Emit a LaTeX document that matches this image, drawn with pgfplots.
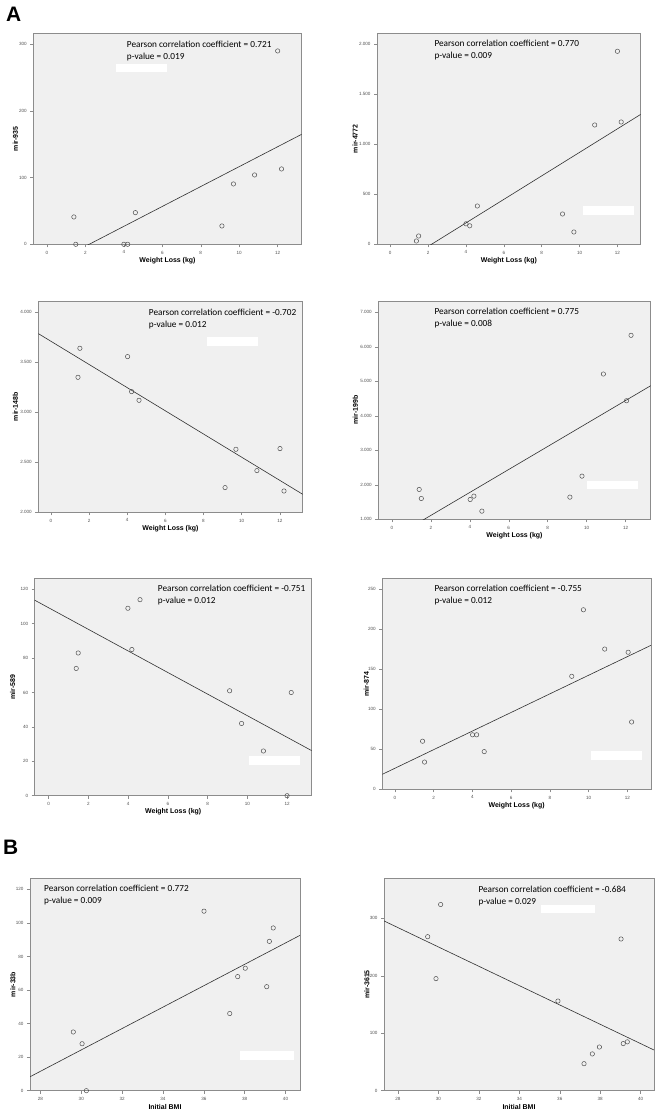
\documentclass[border=0pt]{standalone}
\usepackage{fontspec}
\setmainfont{Liberation Sans}
\newfontfamily\cali{Carlito}
\usepackage{pgfplots}
\pgfplotsset{compat=1.18}
\definecolor{bgc}{HTML}{F0F0F0}
\definecolor{axc}{HTML}{8C8C8C}
\definecolor{tickc}{HTML}{505050}
\definecolor{markc}{HTML}{505050}
\definecolor{linec}{HTML}{303030}
\pgfplotsset{
  panel/.style={
    scale only axis, anchor=south west,
    axis background/.style={fill=bgc},
    axis line style={draw=axc, line width=0.7pt},
    tick align=outside, tick pos=left,
    major tick length=3bp,
    every tick/.style={draw=axc, line width=0.5pt},
    ticklabel style={font=\fontsize{4.6}{5}\selectfont, text=tickc},
    /pgf/number format/assume math mode=true,
    /pgf/number format/1000 sep={.},
    scaled ticks=false,
    xlabel style={font=\bfseries\fontsize{7}{8}\selectfont, at={([yshift=-16.5bp]rel axis cs:0.5,0)}, anchor=center},
    every axis y label/.style={font=\bfseries\fontsize{7}{8}\selectfont, rotate=90, anchor=center},
  },
  pts/.style={only marks, mark=o, mark size=2.2bp, mark options={draw=markc, line width=0.5pt}},
  fit/.style={no marks, draw=linec, line width=0.6pt},
}
\newcommand{\ann}[4]{%
  \node[anchor=base west, inner sep=0pt, font=\cali\fontsize{9.3}{11}\selectfont] at (#1bp,#2bp) {Pearson correlation coefficient = #3};
  \node[anchor=base west, inner sep=0pt, font=\cali\fontsize{9.3}{11}\selectfont] at ([yshift=-12bp]#1bp,#2bp) {p-value = #4};}
\begin{document}
\begin{tikzpicture}
\path[use as bounding box] (0,0) rectangle (658bp,1114bp);
\node[anchor=base west, inner sep=0pt, font=\bfseries\fontsize{21}{24}\selectfont] at (6bp,1092bp) {A};
\node[anchor=base west, inner sep=0pt, font=\bfseries\fontsize{21}{24}\selectfont] at (3bp,259bp) {B};

% Panel 1: mir-935
\begin{axis}[panel, at={(33.3bp,869.7bp)}, width=268.4bp, height=211bp,
  xmin=-0.71, xmax=13.25, ymin=0, ymax=316.5,
  xtick={0,2,...,12}, ytick={0,100,200,300},
  xlabel={Weight Loss (kg)}, ylabel={mir-935},
  ylabel style={at={([xshift=-18bp]rel axis cs:0,0.5)}}]
\addplot[pts] coordinates {(1.4,41) (1.5,0) (4.0,0) (4.2,0) (4.6,47.5) (9.1,27.5) (9.7,90.5) (10.8,104) (12.0,290) (12.2,113)};
\addplot[fit] coordinates {(-0.71,-43.4) (13.25,165)};
\fill[white] (axis cs:3.59,258.5) rectangle (axis cs:6.22,270);
\end{axis}

% Panel 2: mir-4772
\begin{axis}[panel, at={(377bp,869.7bp)}, width=263.7bp, height=211bp,
  xmin=-0.70, xmax=13.23, ymin=0, ymax=2110,
  xtick={0,2,...,12}, ytick={0,500,1000,1500,2000},
  xlabel={Weight Loss (kg)}, ylabel={mir-4772},
  ylabel style={at={([xshift=-22bp]rel axis cs:0,0.5)}}]
\addplot[pts] coordinates {(1.38,33) (1.5,83) (4.0,205) (4.2,185) (4.6,383) (9.1,303) (9.7,123) (10.8,1193) (12.0,1930) (12.2,1223)};
\addplot[fit] coordinates {(-0.70,-338.7) (13.23,1299)};
\fill[white] (axis cs:10.2,293) rectangle (axis cs:12.9,380);
\end{axis}

% Panel 3: mir-148b
\begin{axis}[panel, at={(38.3bp,601.7bp)}, width=264.4bp, height=211.3bp,
  xmin=-0.66, xmax=13.2, ymin=2000, ymax=4113,
  xtick={0,2,...,12}, ytick={2000,2500,3000,3500,4000},
  xlabel={Weight Loss (kg)}, ylabel={mir-148b},
  ylabel style={at={([xshift=-23bp]rel axis cs:0,0.5)}}]
\addplot[pts] coordinates {(1.42,3350) (1.52,3640) (4.02,3557) (4.23,3207) (4.62,3120) (9.13,2247) (9.70,2630) (10.80,2417) (12.01,2637) (12.22,2213)};
\addplot[fit] coordinates {(-0.66,3787) (13.2,2180)};
\fill[white] (axis cs:8.16,3667) rectangle (axis cs:10.84,3757);
\end{axis}

% Panel 4: mir-199b
\begin{axis}[panel, at={(378.3bp,594.7bp)}, width=272.4bp, height=218.3bp,
  xmin=-0.70, xmax=13.29, ymin=1000, ymax=7328,
  xtick={0,2,...,12}, ytick={1000,2000,...,7000},
  xlabel={Weight Loss (kg)}, ylabel={mir-199b},
  ylabel style={at={([xshift=-23bp]rel axis cs:0,0.5)}}]
\addplot[pts] coordinates {(1.40,1865) (1.51,1603) (4.02,1574) (4.21,1671) (4.62,1236) (9.14,1642) (9.76,2251) (10.86,5211) (12.05,4437) (12.28,6333)};
\addplot[fit] coordinates {(-0.70,214) (13.29,4872)};
\fill[white] (axis cs:10.0,1865) rectangle (axis cs:12.64,2116);
\end{axis}

% Panel 5: mir-589
\begin{axis}[panel, at={(34.7bp,318.3bp)}, width=277bp, height=217bp,
  xmin=-0.70, xmax=13.24, ymin=0, ymax=126.2,
  xtick={0,2,...,12}, ytick={0,20,...,120},
  xlabel={Weight Loss (kg)}, ylabel={mir-589},
  ylabel style={at={([xshift=-22bp]rel axis cs:0,0.5)}}]
\addplot[pts] coordinates {(1.39,74) (1.49,83) (3.99,109) (4.19,85) (4.60,114) (9.11,61) (9.71,42) (10.81,26) (12.0,0) (12.21,60)};
\addplot[fit] coordinates {(-0.70,113.7) (13.24,26.2)};
\fill[white] (axis cs:10.08,18) rectangle (axis cs:12.65,23);
\end{axis}

% Panel 6: mir-874
\begin{axis}[panel, at={(382.3bp,324.7bp)}, width=268.7bp, height=211bp,
  xmin=-0.65, xmax=13.22, ymin=0, ymax=263.3,
  xtick={0,2,...,12}, ytick={0,50,...,250},
  xlabel={Weight Loss (kg)}, ylabel={mir-874},
  ylabel style={at={([xshift=-16bp]rel axis cs:0,0.5)}}]
\addplot[pts] coordinates {(1.43,60) (1.53,34) (4.01,68) (4.22,68) (4.61,47) (9.13,141) (9.73,224) (10.83,175) (12.04,171) (12.22,84)};
\addplot[fit] coordinates {(-0.65,18.7) (13.22,179.7)};
\fill[white] (axis cs:10.14,37) rectangle (axis cs:12.78,47.8);
\end{axis}

% Panel 7: mir-33b
\begin{axis}[panel, at={(30bp,23.3bp)}, width=270bp, height=212.4bp,
  xmin=27.49, xmax=40.71, ymin=0, ymax=126.6,
  xtick={28,30,...,40}, ytick={0,20,...,120},
  xlabel={Initial BMI}, ylabel={mir-33b},
  ylabel style={at={([xshift=-17bp]rel axis cs:0,0.5)}}]
\addplot[pts] coordinates {(29.61,35) (30.04,28) (30.25,0) (36.01,107) (37.27,46) (37.66,68) (38.03,73) (39.08,62) (39.21,89) (39.40,97)};
\addplot[fit] coordinates {(27.49,8.3) (40.71,92.6)};
\fill[white] (axis cs:37.77,18.3) rectangle (axis cs:40.41,23.4);
\end{axis}

% Panel 8: mir-3615
\begin{axis}[panel, at={(384bp,23.3bp)}, width=270bp, height=212.4bp,
  xmin=27.31, xmax=40.66, ymin=0, ymax=369.6,
  xtick={28,30,...,40}, ytick={0,100,200,300},
  xlabel={Initial BMI}, ylabel={mir-3615},
  ylabel style={at={([xshift=-17bp]rel axis cs:0,0.5)}}]
\addplot[pts] coordinates {(29.47,268) (30.11,324) (29.88,195) (35.91,156) (37.2,47) (37.61,64) (37.96,76) (39.03,264) (39.14,82) (39.34,85)};
\addplot[fit] coordinates {(27.31,295.4) (40.66,70.8)};
\fill[white] (axis cs:35.07,308.8) rectangle (axis cs:37.74,323);
\end{axis}

\ann{126.7}{1066}{0.721}{0.019}
\ann{434.3}{1067}{0.770}{0.009}
\ann{148.7}{798}{-0.702}{0.012}
\ann{434.3}{799}{0.775}{0.008}
\ann{157.7}{522}{-0.751}{0.012}
\ann{434.3}{522}{-0.755}{0.012}
\ann{44}{222}{0.772}{0.009}
\ann{478.3}{221}{-0.684}{0.029}
\end{tikzpicture}
\end{document}
